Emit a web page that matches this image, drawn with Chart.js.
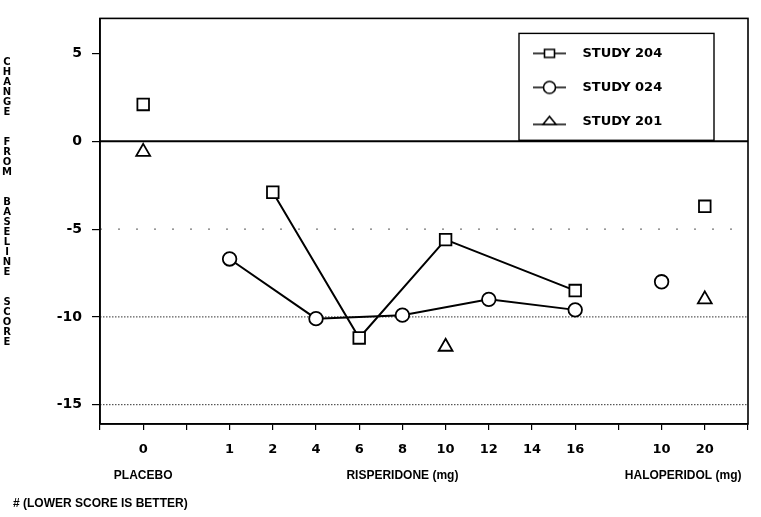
<!DOCTYPE html>
<html>
<head>
<meta charset="utf-8">
<script src="https://cdn.jsdelivr.net/npm/chart.js@4.4.1/dist/chart.umd.min.js"></script>
<style>
html,body{margin:0;padding:0;background:#fff;}
#wrap{width:761px;height:517px;position:relative;}
</style>
</head>
<body>
<div id="wrap"><canvas id="c" width="761" height="517"></canvas></div>
<script>
// ---- data ----
const doseLabels = ['', '0', '', '1', '2', '4', '6', '8', '10', '12', '14', '16', '', '10', '20', ''];
const doseGroups = ['', 'PLACEBO', '', 'RISPERIDONE (mg)', 'RISPERIDONE (mg)', 'RISPERIDONE (mg)', 'RISPERIDONE (mg)',
  'RISPERIDONE (mg)', 'RISPERIDONE (mg)', 'RISPERIDONE (mg)', 'RISPERIDONE (mg)', 'RISPERIDONE (mg)', '',
  'HALOPERIDOL (mg)', 'HALOPERIDOL (mg)', ''];
const lineGroup = 'RISPERIDONE (mg)';
const studyNames = ['STUDY 204', 'STUDY 024', 'STUDY 201'];
const study204 = [null, 2.1, null, null, -2.9, null, -11.2, null, -5.6, null, null, -8.5, null, null, -3.7, null];
const study024 = [null, null, null, -6.7, null, -10.1, null, -9.9, null, -9.0, null, -9.6, null, -8.0, null, null];
const study201 = [null, -0.6, null, null, null, null, null, null, -11.7, null, null, null, null, null, -9.0, null];
const yTicks = [5, 0, -5, -10, -15];
const yTitle = 'CHANGE FROM BASELINE SCORE';
const footnote = '# (LOWER SCORE IS BETTER)';

// ---- derived: group label axis at half-category resolution ----
const groupNames = [...new Set(doseGroups.filter(g => g))];
const groupAxisLabels = new Array(doseLabels.length * 2 - 1).fill('');
groupNames.forEach(g => {
  const idx = doseGroups.map((v, i) => v === g ? i : -1).filter(i => i >= 0);
  const center = (Math.min(...idx) + Math.max(...idx)) / 2;
  groupAxisLabels[Math.round(center * 2)] = g;
});

// ---- styles ----
const markers = [
  {style: 'rect', radius: 8.2},
  {style: 'circle', radius: 6.8},
  {style: 'triangle', radius: 8}
];
const refLines = [
  {value: 0, dash: [], width: 2, color: '#000'},
  {value: -5, dash: [2, 16], width: 1, color: '#555'},
  {value: -10, dash: [1.5, 1.5], width: 1, color: '#333'},
  {value: -15, dash: [1.5, 1.5], width: 1, color: '#333'}
];

function sampleIcon(style) {
  const c = document.createElement('canvas');
  c.width = 44; c.height = 16;
  const g = c.getContext('2d');
  g.strokeStyle = '#000'; g.fillStyle = '#fff'; g.lineWidth = 1.6;
  const ly = style === 'triangle' ? 11 : 8;
  g.beginPath(); g.moveTo(1, ly); g.lineTo(34, ly); g.stroke();
  g.beginPath();
  if (style === 'rect') { g.rect(12.5, 4, 10, 8); }
  else if (style === 'circle') { g.arc(17.5, 8, 6, 0, Math.PI * 2); }
  else { g.moveTo(17.5, 3); g.lineTo(24, 11); g.lineTo(11, 11); g.closePath(); }
  g.fill(); g.stroke();
  return c;
}

const seriesValues = [study204, study024, study201];
const datasets = [];
seriesValues.forEach((vals, s) => {
  const common = {
    borderColor: '#000', backgroundColor: '#fff',
    pointStyle: markers[s].style, pointRadius: markers[s].radius,
    pointBackgroundColor: '#fff', pointBorderColor: '#000', pointBorderWidth: 1.8,
    xAxisID: 'x', yAxisID: 'y', tension: 0
  };
  datasets.push(Object.assign({}, common, {
    label: studyNames[s], inLegend: true, icon: sampleIcon(markers[s].style),
    data: vals.map((v, i) => doseGroups[i] === lineGroup ? v : null),
    showLine: true, spanGaps: true, borderWidth: 2
  }));
  datasets.push(Object.assign({}, common, {
    label: studyNames[s] + ' (other)', inLegend: false,
    data: vals.map((v, i) => doseGroups[i] !== lineGroup ? v : null),
    showLine: false, borderWidth: 0
  }));
});

const decorPlugin = {
  id: 'decor',
  afterLayout(chart) {
    const lg = chart.legend, ca = chart.chartArea;
    lg.left = ca.right - 237; lg.top = ca.top + 7.5;
    lg.right = lg.left + 250; lg.bottom = lg.top + 150;
  },
  beforeDatasetsDraw(chart) {
    const {ctx, chartArea: ca, scales} = chart;
    refLines.forEach(r => {
      const py = scales.y.getPixelForValue(r.value);
      ctx.save();
      ctx.beginPath(); ctx.setLineDash(r.dash);
      ctx.lineWidth = r.width; ctx.strokeStyle = r.color;
      ctx.moveTo(ca.left, py); ctx.lineTo(ca.right, py); ctx.stroke();
      ctx.restore();
    });
  },
  afterDraw(chart) {
    const {ctx, chartArea: ca, scales} = chart;
    ctx.save();
    ctx.strokeStyle = '#000'; ctx.lineWidth = 1.6;
    ctx.strokeRect(ca.left, ca.top, ca.right - ca.left, ca.bottom - ca.top);
    // legend frame
    const lx = ca.right - 229, ly = ca.top + 15;
    const lb = scales.y.getPixelForValue(0) - 1;
    ctx.lineWidth = 1.4;
    ctx.strokeRect(lx, ly, 195, lb - ly);
    // stacked y-axis title
    ctx.fillStyle = '#000';
    ctx.font = 'bold 10px "DejaVu Sans"';
    ctx.textAlign = 'center'; ctx.textBaseline = 'middle';
    let y = 62;
    for (const ch of yTitle) {
      if (ch === ' ') { y += 20; continue; }
      ctx.fillText(ch, 7, y);
      y += 10;
    }
    ctx.restore();
  }
};

new Chart(document.getElementById('c'), {
  type: 'line',
  data: {labels: doseLabels, datasets},
  plugins: [decorPlugin],
  options: {
    responsive: false, animation: false, devicePixelRatio: 1, events: [],
    layout: {padding: {left: 13, top: 13, right: 13, bottom: 0}},
    scales: {
      x: {
        type: 'category', position: 'bottom', offset: false, weight: 0,
        grid: {drawOnChartArea: false, drawTicks: true, tickLength: 6, color: '#000', lineWidth: 1.2},
        border: {display: true, color: '#000', width: 1.6},
        ticks: {autoSkip: false, maxRotation: 0, padding: 12, color: '#000',
          font: {family: 'DejaVu Sans', weight: 'bold', size: 13}},
        afterFit: s => { s.height = 42; }
      },
      x2: {
        type: 'category', position: 'bottom', offset: false, weight: 1,
        labels: groupAxisLabels,
        grid: {display: false, drawTicks: false},
        border: {display: false},
        ticks: {autoSkip: false, maxRotation: 0, padding: 2, color: '#000',
          font: {family: 'Liberation Sans', weight: 'bold', size: 12}},
        afterFit: s => { s.height = 27; }
      },
      y: {
        type: 'linear', position: 'left', min: -16.1, max: 7,
        afterBuildTicks: s => { s.ticks = yTicks.map(v => ({value: v})); },
        grid: {drawOnChartArea: false, drawTicks: true, tickLength: 8, color: '#000', lineWidth: 1.2},
        border: {display: true, color: '#000', width: 1.6},
        ticks: {padding: 10, color: '#000', font: {family: 'DejaVu Sans', weight: 'bold', size: 14}},
        afterFit: s => { s.width = 87; }
      }
    },
    plugins: {
      tooltip: {enabled: false},
      legend: {
        display: true, position: 'chartArea', align: 'start',
        labels: {
          usePointStyle: true, pointStyleWidth: 44, boxHeight: 13, padding: 21, color: '#000',
          font: {family: 'DejaVu Sans', weight: 'bold', size: 13},
          generateLabels: chart => chart.data.datasets
            .map((ds, i) => ds.inLegend ? {text: ds.label, pointStyle: ds.icon, datasetIndex: i,
              fontColor: '#000', fillStyle: '#fff', strokeStyle: '#000', lineWidth: 0, hidden: false} : null)
            .filter(Boolean)
        }
      },
      title: {
        display: true, position: 'bottom', align: 'start', text: footnote, color: '#000',
        font: {family: 'Liberation Sans', weight: 'bold', size: 12},
        padding: {top: 3, bottom: 6.6}
      }
    }
  }
});
</script>
</body>
</html>
